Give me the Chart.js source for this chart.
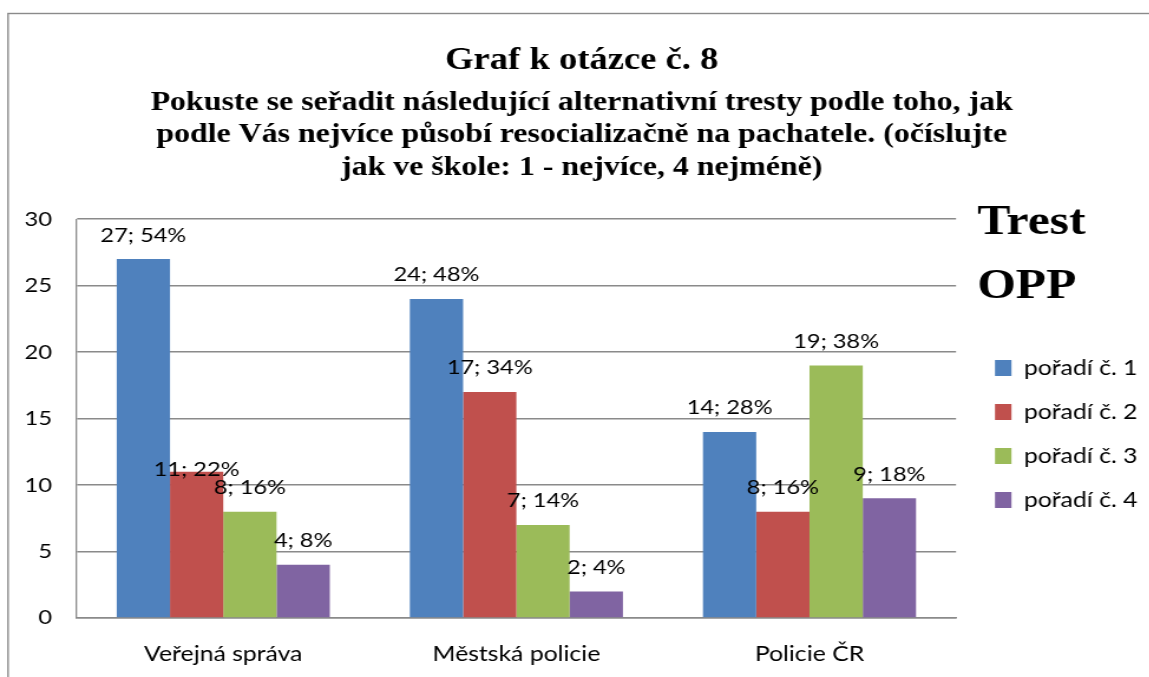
<!DOCTYPE html>
<html>
<head>
<meta charset="utf-8">
<script src="https://cdn.jsdelivr.net/npm/chart.js@4/dist/chart.umd.min.js"></script>
<style>
  html, body { margin: 0; padding: 0; background: #fff; overflow: hidden; }
  #wrap { width: 1149px; height: 677px; overflow: hidden; }
  /* the original picture is a bit wider than tall, stretch it the same way */
  #chart { display: block; transform: scaleX(1.18); transform-origin: 0 0; }
</style>
</head>
<body>
<div id="wrap"><canvas id="chart" width="974" height="677"></canvas></div>
<script>
// data
const categories = ['Veřejná správa', 'Městská policie', 'Policie ČR'];
const seriesNames = ['pořadí č. 1', 'pořadí č. 2', 'pořadí č. 3', 'pořadí č. 4'];
const rank1 = [27, 24, 14];
const rank2 = [11, 17, 8];
const rank3 = [8, 7, 19];
const rank4 = [4, 2, 9];
const yTicks = [0, 5, 10, 15, 20, 25, 30];

const colors = ['#4F81BD', '#C0504D', '#9BBB59', '#8064A2'];
const bodyFont = 'Lato, "Open Sans", sans-serif';
const serifFont = '"Liberation Serif", "Times New Roman", serif';

const allSeries = [rank1, rank2, rank3, rank4];
// totals per category, used for the percent in the labels
const totals = categories.map((c, i) => allSeries.reduce((s, arr) => s + arr[i], 0));

// one label in the original was dragged down onto its bar
const labelNudge = { '1,0': 22 };

const frame = {
  id: 'frame',
  beforeDraw(chart) {
    const ctx = chart.ctx;
    ctx.save();
    ctx.strokeStyle = '#8a8a8a';
    ctx.lineWidth = 1.4;
    ctx.strokeRect(6.8, 13.5, 1400, 1000);
    ctx.restore();
  }
};

const barLabels = {
  id: 'barLabels',
  afterDatasetsDraw(chart) {
    const ctx = chart.ctx;
    ctx.save();
    ctx.font = '20px ' + bodyFont;
    ctx.fillStyle = '#000';
    ctx.textAlign = 'center';
    ctx.textBaseline = 'middle';
    chart.data.datasets.forEach((ds, di) => {
      const meta = chart.getDatasetMeta(di);
      meta.data.forEach((bar, i) => {
        const v = ds.data[i];
        const pct = Math.round(v / totals[i] * 100);
        const dy = labelNudge[di + ',' + i] || 0;
        ctx.fillText(v + '; ' + pct + '%', bar.x, bar.y - 24 + dy);
      });
    });
    ctx.restore();
  }
};

const legendHeading = {
  id: 'legendHeading',
  afterDraw(chart) {
    const lg = chart.legend;
    const ctx = chart.ctx;
    ctx.save();
    ctx.font = 'bold 42px ' + serifFont;
    ctx.fillStyle = '#000';
    ctx.textAlign = 'left';
    ctx.textBaseline = 'alphabetic';
    ctx.fillText('Trest', lg.left + 8, 234);
    ctx.fillText('OPP', lg.left + 8, 298);
    ctx.restore();
  }
};

new Chart(document.getElementById('chart'), {
  type: 'bar',
  data: {
    labels: categories,
    datasets: allSeries.map((arr, k) => ({
      label: seriesNames[k],
      data: arr,
      backgroundColor: colors[k],
      borderWidth: 0
    }))
  },
  options: {
    responsive: false,
    animation: false,
    layout: { padding: { left: 12, right: 0, top: 0, bottom: 0 } },
    datasets: { bar: { categoryPercentage: 0.727, barPercentage: 1 } },
    plugins: {
      title: {
        display: true,
        text: 'Graf k otázce č. 8',
        color: '#000',
        font: { family: serifFont, size: 31, weight: 'bold', lineHeight: 1.2 },
        padding: { top: 42, bottom: 0 }
      },
      subtitle: {
        display: true,
        text: [
          'Pokuste se seřadit následující alternativní tresty podle toho, jak',
          'podle Vás nejvíce působí resocializačně na pachatele. (očíslujte',
          'jak ve škole: 1 - nejvíce, 4 nejméně)'
        ],
        color: '#000',
        font: { family: serifFont, size: 27, weight: 'bold', lineHeight: 1.204 },
        padding: { top: 7.5, bottom: 35 }
      },
      legend: {
        position: 'right',
        align: 'start',
        title: { display: true, text: ' ', font: { size: 12 }, padding: { top: 0, bottom: 320 } },
        labels: {
          color: '#000',
          font: { family: bodyFont, size: 21 },
          boxWidth: 14,
          boxHeight: 16,
          padding: 23
        }
      },
      tooltip: { enabled: false }
    },
    scales: {
      x: {
        afterFit(scale) { scale.height = 59; },
        grid: { display: false, drawTicks: false },
        border: { color: '#8a8a8a', width: 1.5 },
        ticks: { color: '#000', font: { family: bodyFont, size: 21 }, padding: 24 }
      },
      y: {
        min: 0,
        max: 30,
        afterBuildTicks(scale) { scale.ticks = yTicks.map(v => ({ value: v })); },
        afterFit(scale) { scale.width = 53; },
        grid: { color: '#8a8a8a', lineWidth: 1.5, drawTicks: false },
        border: { color: '#8a8a8a', width: 1.3 },
        ticks: { color: '#000', font: { family: bodyFont, size: 20 }, padding: 21 }
      },
      gap: {
        position: 'right',
        display: true,
        grid: { display: false },
        border: { display: false },
        ticks: { display: false },
        afterFit(scale) { scale.width = 10; }
      }
    }
  },
  plugins: [frame, barLabels, legendHeading]
});
</script>
</body>
</html>
